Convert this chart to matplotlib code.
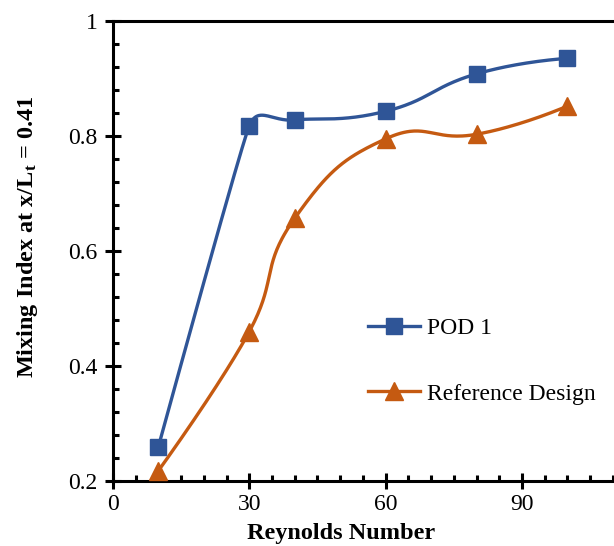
import numpy as np
import matplotlib
matplotlib.use("Agg")
import matplotlib.pyplot as plt
from matplotlib.ticker import MultipleLocator, FixedLocator, FuncFormatter

plt.rcParams['font.family'] = ['Liberation Serif', 'DejaVu Serif']
plt.rcParams['mathtext.fontset'] = 'custom'
plt.rcParams['mathtext.rm'] = 'Liberation Serif'
plt.rcParams['mathtext.it'] = 'Liberation Serif:italic'
plt.rcParams['mathtext.bf'] = 'Liberation Serif:bold'

reynolds = [10, 30, 40, 60, 80, 100]
pod1 = [0.26, 0.818, 0.828, 0.843, 0.908, 0.935]
reference = [0.218, 0.46, 0.657, 0.795, 0.803, 0.852]
x_ticks = [0, 30, 60, 90]

BLUE = '#2F5597'
ORANGE = '#C55A11'

W, H, DPI = 6.14, 5.46, 100
fig = plt.figure(figsize=(W, H), dpi=DPI)

# axes box in pixels: x=0 at 113 px, y=0.2 at 481 px, y=1 at 21 px
px_per_x = 4.544
left_px, bottom_px, top_px = 113, 481, 21
xmax = 120
ax_w = xmax * px_per_x
ax_h = bottom_px - top_px
ax = fig.add_axes([left_px / 614, (546 - bottom_px) / 546,
                   ax_w / 614, ax_h / 546])
ax.set_xlim(0, xmax)
ax.set_ylim(0.2, 1.0)


def smooth(xs, ys, sx, sy, k=0.5, n=60):
    """Bezier smoothing; control arms limited by the shorter neighbouring segment."""
    p = np.column_stack([np.asarray(xs) * sx, np.asarray(ys) * sy])
    m = len(p)
    seg = [np.linalg.norm(p[i + 1] - p[i]) for i in range(m - 1)]
    tang = []
    arm = []
    for i in range(m):
        a = p[max(i - 1, 0)]
        b = p[min(i + 1, m - 1)]
        d = b - a
        tang.append(d / np.linalg.norm(d))
        if i == 0 or i == m - 1:
            arm.append(0.0)
        else:
            arm.append(min(seg[i - 1], seg[i]) * k)
    t = np.linspace(0, 1, n)[:, None]
    out = []
    for i in range(m - 1):
        p1, p2 = p[i], p[i + 1]
        c1 = p1 + tang[i] * arm[i]
        c2 = p2 - tang[i + 1] * arm[i + 1]
        s = ((1 - t) ** 3) * p1 + 3 * ((1 - t) ** 2) * t * c1 \
            + 3 * (1 - t) * t ** 2 * c2 + t ** 3 * p2
        out.append(s if i == 0 else s[1:])
    out = np.vstack(out)
    return out[:, 0] / sx, out[:, 1] / sy


sx, sy = px_per_x, 576.0
for ys, col, mk, ms, lab in [(pod1, BLUE, 's', 11.5, 'POD 1'),
                             (reference, ORANGE, '^', 12.5, 'Reference Design')]:
    cx, cy = smooth(reynolds, ys, sx, sy)
    ax.plot(cx, cy, color=col, lw=2.4, solid_capstyle='round', zorder=3)
    ax.plot(reynolds, ys, linestyle='none', marker=mk, ms=ms, color=col, zorder=4)
    ax.plot([], [], color=col, lw=2.4, marker=mk, ms=ms, label=lab)

for s in ['left', 'bottom', 'top']:
    ax.spines[s].set_linewidth(2.2)
ax.spines['right'].set_visible(False)

ax.xaxis.set_major_locator(FixedLocator(x_ticks))
ax.xaxis.set_minor_locator(MultipleLocator(5))
ax.yaxis.set_major_locator(MultipleLocator(0.2))
ax.yaxis.set_minor_locator(MultipleLocator(0.04))
ax.yaxis.set_major_formatter(FuncFormatter(lambda v, p: f'{v:g}'))
ax.tick_params(which='major', direction='inout', length=12, width=2.2,
               labelsize=17, pad=3)
ax.tick_params(which='minor', direction='in', length=4, width=2.2)
ax.tick_params(top=False, right=False, which='both')
ax.tick_params(axis='y', which='major', pad=5)

ax.set_xlabel('Reynolds Number', fontsize=17.5, fontweight='bold')
ax.xaxis.set_label_coords((341 - left_px) / ax_w, (bottom_px - 523) / ax_h)
ax.set_ylabel(r'Mixing Index at x/L$_{\mathbf{t}}$ = 0.41', fontsize=17.5,
              fontweight='bold')
ax.yaxis.set_label_coords((40 - left_px) / ax_w, (bottom_px - 237) / ax_h)

leg = ax.legend(loc='upper left',
                bbox_to_anchor=(246 / ax_w, 0.375),
                frameon=False, fontsize=17, labelspacing=1.85,
                handlelength=2.2, handletextpad=0.3, borderaxespad=0)

fig.savefig('out.png', dpi=DPI)
